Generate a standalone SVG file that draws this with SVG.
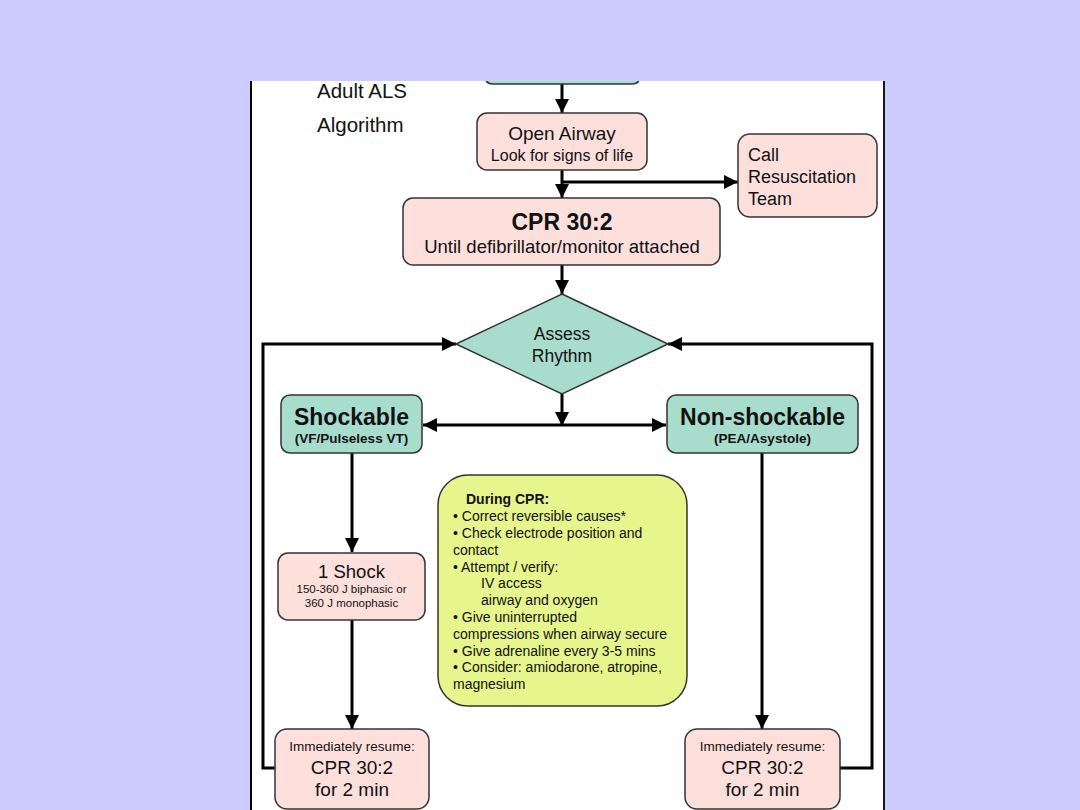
<svg xmlns="http://www.w3.org/2000/svg" width="1080" height="810" viewBox="0 0 1080 810">
<defs>
<marker id="ah" markerUnits="userSpaceOnUse" viewBox="0 0 14 14" refX="14" refY="7" markerWidth="14" markerHeight="14" orient="auto-start-reverse">
<path d="M0,0 L14,7 L0,14 z" fill="#000"/>
</marker>
<style>
.pink{fill:#FDE0DC;stroke:#333;stroke-width:1.5}
.teal{fill:#A8DCCD;stroke:#333;stroke-width:1.5}
.yel{fill:#E6F58C;stroke:#333;stroke-width:1.5}
text{font-family:"Liberation Sans",Arial,sans-serif;fill:#111}
.c{text-anchor:middle}
.b{font-weight:bold}
.con{fill:none;stroke:#000;stroke-width:3}
</style>
</defs>
<rect x="0" y="0" width="1080" height="810" fill="#CCCCFF"/>
<rect x="250" y="81" width="635" height="729" fill="#FFFFFF"/>
<line x1="251" y1="81" x2="251" y2="810" stroke="#000" stroke-width="2"/>
<line x1="884" y1="81" x2="884" y2="810" stroke="#000" stroke-width="1.8"/>

<g id="title">
<text x="317" y="98" font-size="20.5">Adult ALS</text>
<text x="317" y="132" font-size="20.5">Algorithm</text>
</g>

<g id="connectors">
<path class="con" d="M562,84 V113" marker-end="url(#ah)"/>
<path class="con" d="M562,170 V198" marker-end="url(#ah)"/>
<path class="con" d="M562,182 H738" marker-end="url(#ah)"/>
<path class="con" d="M562,265 V294" marker-end="url(#ah)"/>
<path class="con" d="M562,394 V426" marker-end="url(#ah)"/>
<path class="con" d="M423,425 H666" marker-start="url(#ah)" marker-end="url(#ah)"/>
<path class="con" d="M352,453 V552" marker-end="url(#ah)"/>
<path class="con" d="M352,620 V729" marker-end="url(#ah)"/>
<path class="con" d="M762,453 V729" marker-end="url(#ah)"/>
<path class="con" d="M275,768 H263 V344 H456" marker-end="url(#ah)"/>
<path class="con" d="M840,768 H872 V344 H668" marker-end="url(#ah)"/>
</g>

<g id="top-box">
<path class="teal" d="M485,75 V76 Q485,84 493,84 H632 Q640,84 640,76 V75"/>
</g>

<g id="open-airway">
<rect class="pink" x="477" y="113" width="170" height="57" rx="10"/>
<text class="c" x="562" y="140" font-size="19">Open Airway</text>
<text class="c" x="562" y="161" font-size="16">Look for signs of life</text>
</g>

<g id="call-team">
<rect class="pink" x="738" y="134" width="139" height="83" rx="12"/>
<text x="748" y="161" font-size="18">Call</text>
<text x="748" y="183" font-size="18">Resuscitation</text>
<text x="748" y="205" font-size="18">Team</text>
</g>

<g id="cpr">
<rect class="pink" x="403" y="198" width="317" height="67" rx="10"/>
<text class="c b" x="562" y="230" font-size="23">CPR 30:2</text>
<text class="c" x="562" y="253" font-size="18.5">Until defibrillator/monitor attached</text>
</g>

<g id="assess">
<polygon class="teal" points="562,294 668,344 562,394 456,344"/>
<text class="c" x="562" y="340" font-size="17.5">Assess</text>
<text class="c" x="562" y="362" font-size="17.5">Rhythm</text>
</g>

<g id="shockable">
<rect class="teal" x="281" y="395" width="141" height="58" rx="9"/>
<text class="c b" x="351.5" y="425" font-size="23">Shockable</text>
<text class="c b" x="351.5" y="443" font-size="13.5">(VF/Pulseless VT)</text>
</g>

<g id="non-shockable">
<rect class="teal" x="667" y="395" width="191" height="58" rx="9"/>
<text class="c b" x="762.5" y="425" font-size="23">Non-shockable</text>
<text class="c b" x="762.5" y="443" font-size="13.5">(PEA/Asystole)</text>
</g>

<g id="during-cpr">
<rect class="yel" x="438" y="475" width="249" height="231" rx="30"/>
<text x="466" y="504" font-size="14" class="b">During CPR:</text>
<text x="453" y="521" font-size="14">• Correct reversible causes*</text>
<text x="453" y="538" font-size="14">• Check electrode position and</text>
<text x="453" y="555" font-size="14">contact</text>
<text x="453" y="572" font-size="14">• Attempt / verify:</text>
<text x="481" y="588" font-size="14">IV access</text>
<text x="481" y="605" font-size="14">airway and oxygen</text>
<text x="453" y="622" font-size="14">• Give uninterrupted</text>
<text x="453" y="639" font-size="14">compressions when airway secure</text>
<text x="453" y="656" font-size="14">• Give adrenaline every 3-5 mins</text>
<text x="453" y="672" font-size="14">• Consider: amiodarone, atropine,</text>
<text x="453" y="689" font-size="14">magnesium</text>
</g>

<g id="one-shock">
<rect class="pink" x="278" y="553" width="147" height="67" rx="10"/>
<text class="c" x="351.5" y="578" font-size="18.5">1 Shock</text>
<text class="c" x="351.5" y="593" font-size="11.5">150-360 J biphasic or</text>
<text class="c" x="351.5" y="607" font-size="11.5">360 J monophasic</text>
</g>

<g id="resume-left">
<rect class="pink" x="275" y="729" width="154" height="80" rx="12"/>
<text class="c" x="352" y="751" font-size="13.5">Immediately resume:</text>
<text class="c" x="352" y="774" font-size="19">CPR 30:2</text>
<text class="c" x="352" y="796" font-size="19">for 2 min</text>
</g>

<g id="resume-right">
<rect class="pink" x="685" y="729" width="155" height="80" rx="12"/>
<text class="c" x="762.5" y="751" font-size="13.5">Immediately resume:</text>
<text class="c" x="762.5" y="774" font-size="19">CPR 30:2</text>
<text class="c" x="762.5" y="796" font-size="19">for 2 min</text>
</g>

<rect x="0" y="0" width="1080" height="81" fill="#CCCCFF"/>
</svg>
